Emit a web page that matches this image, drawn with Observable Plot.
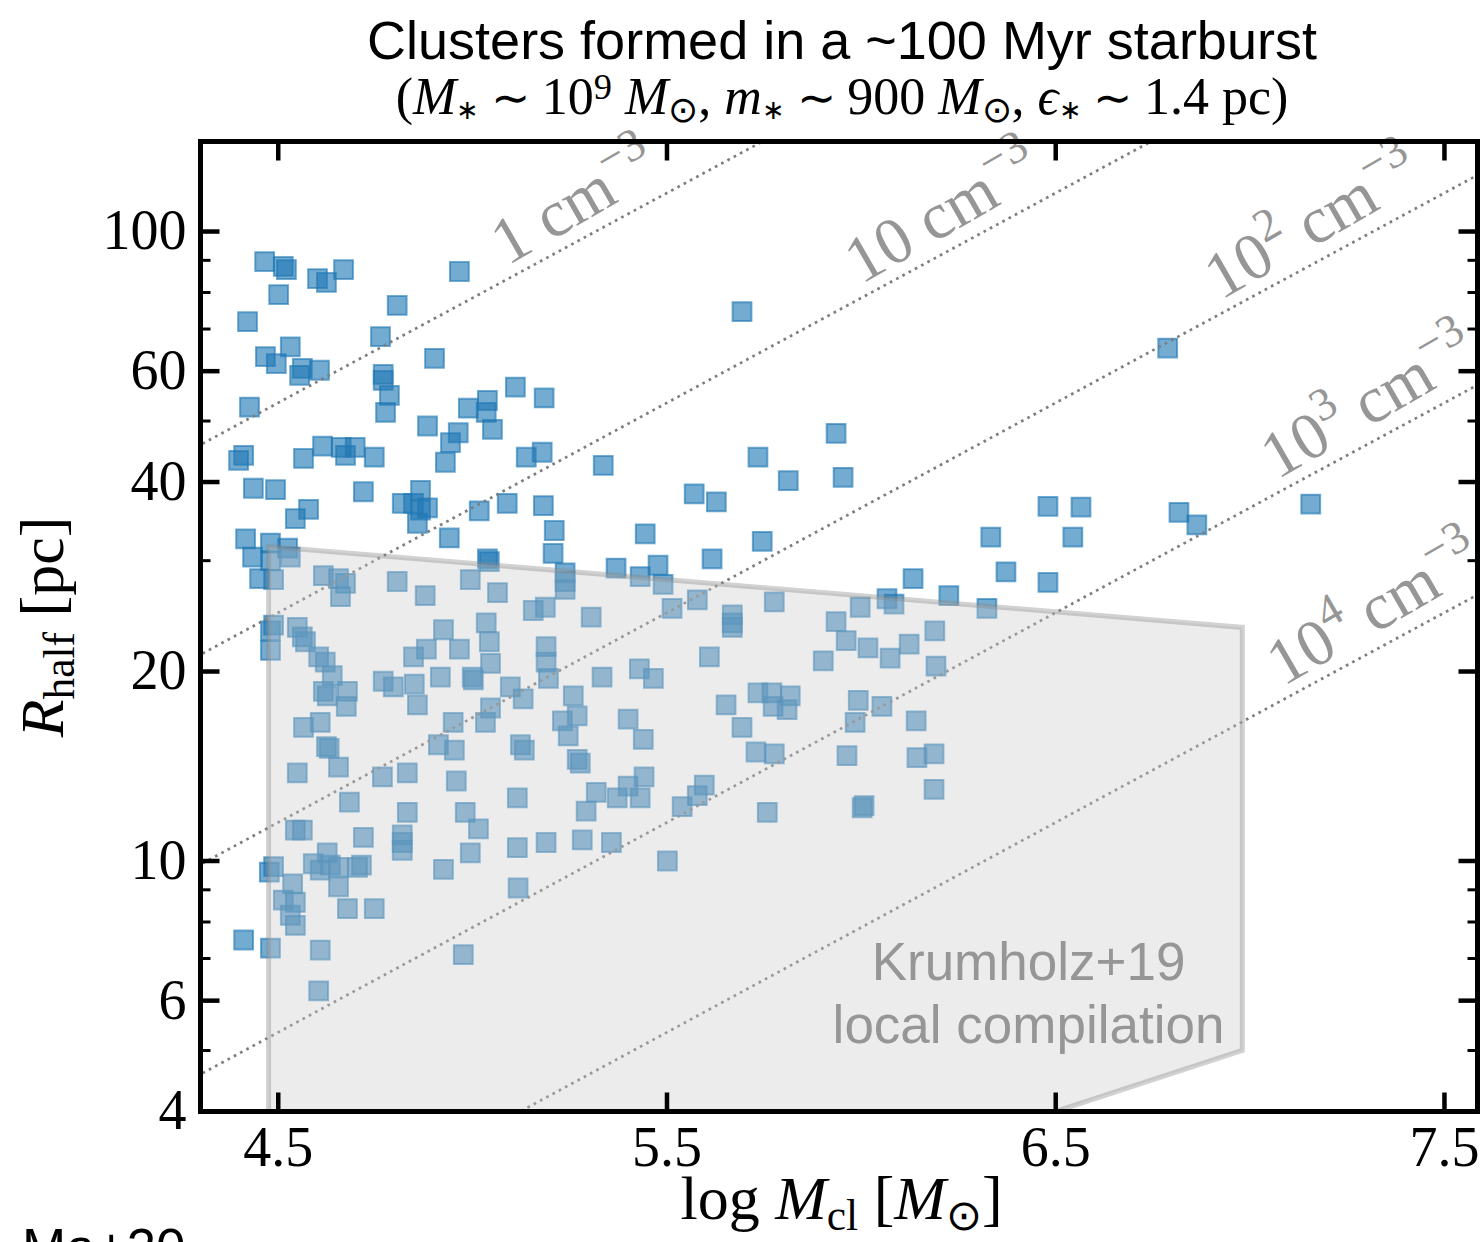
<!DOCTYPE html>
<html>
<head>
<meta charset="utf-8">
<script src="https://cdn.jsdelivr.net/npm/d3@7"></script>
<script src="https://cdn.jsdelivr.net/npm/@observablehq/plot@0.6"></script>
<style>
  html, body { margin: 0; padding: 0; background: #fff; width: 1481px; height: 1242px; overflow: hidden; }
  #wrap { position: relative; width: 1481px; height: 1242px; }
  #head { position: relative; height: 120px; }
  .ttl { position: absolute; left: 842px; transform: translateX(-50%); white-space: nowrap; line-height: 1; color: #000; }
  #t1 { top: 9px; font: 54px "Liberation Sans", Arial, sans-serif; }
  #t2 { top: 67px; font: 52px "Liberation Serif", "Times New Roman", serif; }
  .sup, .sub { position: relative; font-size: 70%; vertical-align: baseline; }
  .sup { top: -0.42em; }
  .sub { top: 0.22em; }
  .star { font-size: 52%; top: 0.2em; }
  .rel { font-size: 90%; margin: 0 0.25em; }
  #note { position: absolute; left: 22px; top: 1221px; font: 53px "Liberation Sans", Arial, sans-serif; line-height: 1; }
  svg text { white-space: pre; }
</style>
</head>
<body>
<div id="wrap">
  <div id="head">
    <div class="ttl" id="t1">Clusters formed in a ~100 Myr starburst</div>
    <div class="ttl" id="t2">(<i>M</i><span class="sub star">∗</span><span class="rel">∼</span>10<span class="sup">9</span> <i>M</i><span class="sub">⊙</span>, <i>m</i><span class="sub star">∗</span><span class="rel">∼</span>900 <i>M</i><span class="sub">⊙</span>, <i>ϵ</i><span class="sub star">∗</span><span class="rel">∼</span>1.4 pc)</div>
  </div>
  <div id="chart"></div>
  <div id="note">Ma+20</div>
</div>
<script>
// Cluster masses (log10 Msun) and half-mass radii (pc)
const clusterLogMass = [
  4.465, 4.513, 4.521, 4.501, 4.601, 4.624, 4.668, 4.421, 4.966, 4.806,
  4.763, 4.902, 4.467, 4.495, 4.531, 4.562, 4.555, 4.606, 4.426, 4.770,
  4.770, 4.786, 4.776, 4.884, 4.989, 5.038, 5.035, 5.051, 5.110, 5.184,
  4.963, 4.943, 4.930, 4.398, 4.411, 4.565, 4.614, 4.662, 4.673, 4.698,
  4.747, 5.138, 5.179, 4.436, 4.493, 4.719, 4.578, 4.544, 4.819, 4.848,
  4.866, 4.866, 4.884, 4.858, 5.017, 5.089, 5.182, 5.210, 4.940, 4.416,
  4.480, 4.524, 5.207, 5.038, 5.336, 5.734, 5.935, 5.953, 5.570, 5.627,
  5.812, 5.745, 5.616, 5.444, 5.693, 6.788, 6.480, 6.565, 6.333, 6.544,
  6.372, 6.480, 6.817, 6.863, 7.156, 6.133, 6.066, 6.084, 6.225, 6.323,
  5.369, 5.477, 5.431, 5.490, 4.434, 4.480, 4.531, 4.452, 4.488, 4.616,
  4.655, 4.673, 4.660, 4.806, 4.878, 4.994, 5.064, 5.043, 5.238, 5.238,
  5.238, 5.156, 5.187, 5.305, 5.513, 5.578, 5.668, 5.668, 5.668, 5.776,
  5.935, 5.961, 5.997, 6.017, 6.074, 6.123, 6.189, 6.192, 4.488, 4.480,
  4.480, 4.549, 4.562, 4.570, 4.604, 4.621, 4.639, 4.616, 4.626, 4.678,
  4.675, 4.925, 4.848, 4.881, 4.966, 5.035, 5.043, 5.046, 4.917, 4.999,
  5.002, 4.770, 4.796, 4.850, 4.858, 5.189, 5.189, 5.195, 5.097, 5.130,
  5.046, 5.033, 4.950, 4.565, 4.608, 4.624, 4.631, 4.655, 4.549, 4.768,
  4.832, 4.958, 5.115, 4.683, 4.832, 4.981, 5.015, 4.544, 4.562, 4.719,
  4.819, 4.819, 4.819, 4.994, 5.115, 5.189, 4.925, 4.488, 4.477, 4.590,
  4.626, 4.608, 4.634, 4.655, 4.704, 4.714, 4.537, 4.655, 4.513, 4.544,
  4.531, 4.544, 4.678, 4.747, 5.117, 4.411, 4.480, 4.608, 4.976, 4.604,
  5.123, 5.133, 4.912, 4.953, 5.259, 5.231, 5.269, 5.246, 5.333, 5.429,
  5.465, 5.400, 5.439, 5.609, 5.652, 5.693, 5.734, 5.770, 5.817, 5.773,
  5.809, 5.729, 5.776, 5.902, 5.992, 6.053, 5.984, 6.141, 5.963, 6.143,
  6.187, 6.187, 6.002, 6.007, 5.758, 5.539, 5.578, 5.596, 5.269, 5.277,
  5.318, 5.292, 5.372, 5.400, 5.431, 5.441, 5.282, 5.357, 5.501
];
const clusterRadius = [
  89.6, 88.0, 87.0, 79.4, 84.2, 83.0, 87.0, 71.9, 86.4, 76.3,
  68.1, 62.9, 63.3, 61.7, 65.6, 60.6, 59.1, 60.2, 52.6, 59.3,
  58.0, 54.9, 51.6, 49.1, 52.4, 53.9, 51.6, 48.5, 56.6, 54.4,
  47.9, 46.2, 43.0, 43.3, 44.1, 43.6, 45.6, 45.4, 44.1, 45.4,
  43.8, 43.8, 44.6, 39.1, 38.9, 38.6, 36.2, 35.0, 37.0, 37.0,
  38.8, 36.1, 36.4, 34.4, 36.0, 37.0, 36.7, 33.5, 32.6, 32.5,
  32.0, 31.4, 30.8, 30.2, 42.5, 43.8, 47.8, 40.7, 38.3, 37.2,
  40.2, 32.2, 30.2, 33.1, 74.6, 65.3, 36.6, 36.5, 32.7, 32.7,
  28.8, 27.7, 35.8, 34.2, 36.9, 28.1, 26.1, 25.6, 26.4, 25.2,
  29.2, 29.5, 28.3, 27.5, 30.4, 30.0, 30.4, 28.1, 28.0, 28.4,
  28.1, 27.6, 26.3, 27.8, 26.4, 28.0, 26.7, 29.9, 28.7, 27.8,
  27.0, 25.0, 25.3, 24.4, 25.2, 26.0, 24.6, 23.9, 23.5, 25.8,
  24.0, 22.4, 25.3, 21.8, 21.0, 22.1, 23.2, 20.4, 23.7, 23.2,
  21.6, 23.5, 22.7, 22.3, 21.1, 20.7, 19.7, 18.6, 18.3, 18.6,
  17.6, 23.3, 21.1, 21.7, 21.7, 23.9, 22.3, 20.6, 19.6, 19.6,
  19.4, 19.3, 18.9, 19.1, 17.7, 21.9, 20.7, 19.5, 18.9, 18.1,
  17.5, 16.6, 16.6, 16.3, 16.6, 15.2, 15.1, 14.1, 13.8, 13.6,
  13.8, 13.4, 12.6, 12.4, 11.95, 11.95, 11.25, 11.2, 11.2, 10.9,
  11.0, 10.7, 10.4, 10.3, 10.5, 10.7, 9.7, 9.8, 9.6, 9.9,
  10.3, 9.67, 9.85, 9.77, 9.77, 9.85, 9.2, 9.1, 8.67, 8.6,
  8.2, 7.9, 8.4, 8.4, 9.06, 7.49, 7.27, 7.22, 7.1, 6.22,
  15.3, 15.0, 15.3, 15.0, 18.3, 16.7, 17.0, 15.8, 19.6, 20.2,
  19.5, 16.8, 15.6, 21.1, 17.7, 16.3, 18.5, 18.5, 18.3, 17.6,
  17.4, 14.9, 14.8, 20.8, 18.0, 17.6, 16.6, 16.7, 14.7, 14.6,
  14.8, 13.0, 12.15, 12.25, 11.95, 12.2, 12.7, 13.2, 14.5, 14.3,
  12.85, 12.0, 12.6, 13.15, 12.6, 13.6, 10.8, 10.7, 10.0
];

// Constant half-mass densities (cm^-3) and where their labels start (log Msun)
const densities = [1, 10, 100, 1000, 10000];
const densityLabels = ["1 cm^{−3}", "10 cm^{−3}", "10^{2} cm^{−3}", "10^{3} cm^{−3}", "10^{4} cm^{−3}"];
const densityLabelLogMass = [5.09, 6.0, 6.925, 7.07, 7.085];

// Krumholz+19 local compilation region (log Msun, pc)
const k19LogMass = [4.475, 4.475, 6.98, 6.98, 6.5, 4.475];
const k19Radius = [4.0, 31.6, 23.5, 5.0, 4.0, 4.0];

// Axis ticks
const xTicks = [4.5, 5.5, 6.5, 7.5];
const yMajorTicks = [4, 6, 10, 20, 40, 60, 100];
const yMinorTicks = [5, 7, 8, 9, 30, 50, 70, 80, 90];

const SERIF = '"Liberation Serif", "Times New Roman", serif';
const SANS = '"Liberation Sans", Arial, sans-serif';
const BLUE = "#1f77b4";

// Hydrogen number density of 1 Msun/pc^3, in cm^-3
const H_PER_CC = 40.45;
// Half-mass radius of a cluster of mass 10^logM whose half-mass sphere has density n
const radiusAt = (n, logM) => Math.cbrt((0.5 * Math.pow(10, logM) * H_PER_CC) / ((4 / 3) * Math.PI * n));

const clusters = clusterLogMass.map((m, i) => ({logM: m, R: clusterRadius[i]}));
const densityLines = densities.flatMap((n) => [4.0, 7.8].map((logM) => ({n, logM, R: radiusAt(n, logM)})));
const densityText = densities.map((n, i) => ({
  label: densityLabels[i],
  logM: densityLabelLogMass[i],
  R: radiusAt(n, densityLabelLogMass[i])
}));
const k19 = k19LogMass.map((m, i) => ({logM: m, R: k19Radius[i]}));

// Short tick strokes drawn from the frame edge inward
const tickShape = (dx, dy) => ({draw(ctx) { ctx.moveTo(0, 0); ctx.lineTo(dx, dy); }});
const MAJ = 19, MIN = 10;
const tickMarks = [
  Plot.dot(yMajorTicks, {y: (d) => d, frameAnchor: "left", symbol: tickShape(MAJ, 0), stroke: "black", strokeWidth: 4.5, fill: "none"}),
  Plot.dot(yMajorTicks, {y: (d) => d, frameAnchor: "right", symbol: tickShape(-MAJ, 0), stroke: "black", strokeWidth: 4.5, fill: "none"}),
  Plot.dot(yMinorTicks, {y: (d) => d, frameAnchor: "left", symbol: tickShape(MIN, 0), stroke: "black", strokeWidth: 3, fill: "none"}),
  Plot.dot(yMinorTicks, {y: (d) => d, frameAnchor: "right", symbol: tickShape(-MIN, 0), stroke: "black", strokeWidth: 3, fill: "none"}),
  Plot.dot(xTicks, {x: (d) => d, frameAnchor: "bottom", symbol: tickShape(0, -MAJ), stroke: "black", strokeWidth: 4.5, fill: "none"}),
  Plot.dot(xTicks, {x: (d) => d, frameAnchor: "top", symbol: tickShape(0, MAJ), stroke: "black", strokeWidth: 4.5, fill: "none"})
];

const plot = Plot.plot({
  width: 1481,
  height: 1122,
  marginLeft: 200,
  marginRight: 4,
  marginTop: 21,
  marginBottom: 131,
  style: {fontFamily: SERIF, fontSize: "56px", color: "black", background: "white", overflow: "visible"},
  x: {domain: [4.3, 7.585], label: null},
  y: {type: "log", domain: [4, 139], label: null},
  marks: [
    Plot.dot(clusters, {
      x: "logM", y: "R", symbol: "square", r: 10.6,
      fill: BLUE, fillOpacity: 0.62, stroke: BLUE, strokeOpacity: 0.62, strokeWidth: 2
    }),
    Plot.line(densityLines, {
      x: "logM", y: "R", z: "n", clip: true,
      stroke: "#7e7e7e", strokeWidth: 2.7, strokeDasharray: "2.7 4.4", strokeLinecap: "butt"
    }),
    Plot.line(k19, {
      x: "logM", y: "R", clip: true,
      fill: "#cacaca", fillOpacity: 0.36,
      stroke: "#8a8a8a", strokeOpacity: 0.38, strokeWidth: 5,
      strokeLinejoin: "miter", strokeMiterlimit: 10, strokeLinecap: "butt"
    }),
    Plot.text(["Krumholz+19\nlocal compilation"], {
      x: 6.43, y: 6.2, text: (d) => d, lineHeight: 1.19,
      fontSize: 53, fontFamily: SANS, fill: "#969696", textAnchor: "middle"
    }),
    Plot.text(densityText, {
      x: "logM", y: "R", text: "label", rotate: -30,
      textAnchor: "start", lineAnchor: "bottom", dy: -13,
      fontSize: 66, fontFamily: SERIF, fill: "#969696"
    }),
    ...tickMarks,
    Plot.frame({stroke: "black", strokeWidth: 5}),
    Plot.axisX(xTicks, {tickSize: 0, tickPadding: 15, tickFormat: (d) => d.toFixed(1), fontSize: 56, label: null}),
    Plot.axisY(yMajorTicks, {tickSize: 0, tickPadding: 14, tickFormat: (d) => `${d}`, fontSize: 56, label: null})
  ]
});

document.getElementById("chart").appendChild(plot);

// Rich text: superscripts, subscripts and italics as tspans
function writeRich(el, segs, size) {
  const t = d3.select(el);
  t.text(null);
  let shift = 0;
  for (const s of segs) {
    const target = s.sup ? -0.42 * size : s.sub ? 0.18 * size : 0;
    const sp = t.append("tspan").text(s.t);
    if (target !== shift) sp.attr("dy", target - shift);
    shift = target;
    if (s.sup || s.sub) sp.attr("font-size", 0.7 * size);
    if (s.it) sp.attr("font-style", "italic");
  }
}
function parseSup(str) {
  const segs = [];
  const re = /\^\{([^}]*)\}/g;
  let last = 0, m;
  while ((m = re.exec(str))) {
    if (m.index > last) segs.push({t: str.slice(last, m.index)});
    segs.push({t: m[1], sup: true});
    last = re.lastIndex;
  }
  if (last < str.length) segs.push({t: str.slice(last)});
  return segs;
}

const svg = d3.select(plot);
svg.selectAll("text").each(function () {
  const s = this.textContent;
  if (s.includes("^{")) writeRich(this, parseSup(s), 66);
});

// Axis titles
const xMid = (200 + 1477) / 2;
const xLab = svg.append("text")
  .attr("x", xMid + 3).attr("y", 1099)
  .attr("text-anchor", "middle")
  .attr("font-family", SERIF).attr("font-size", 62).attr("fill", "black");
writeRich(xLab.node(), [
  {t: "log "}, {t: "M", it: true}, {t: "cl", sub: true},
  {t: " ["}, {t: "M", it: true}, {t: "⊙", sub: true}, {t: "]"}
], 62);

const yLab = svg.append("text")
  .attr("transform", "translate(63,507) rotate(-90)")
  .attr("text-anchor", "middle")
  .attr("font-family", SERIF).attr("font-size", 62).attr("fill", "black");
writeRich(yLab.node(), [
  {t: "R", it: true}, {t: "half", sub: true}, {t: " [pc]"}
], 62);
</script>
</body>
</html>
